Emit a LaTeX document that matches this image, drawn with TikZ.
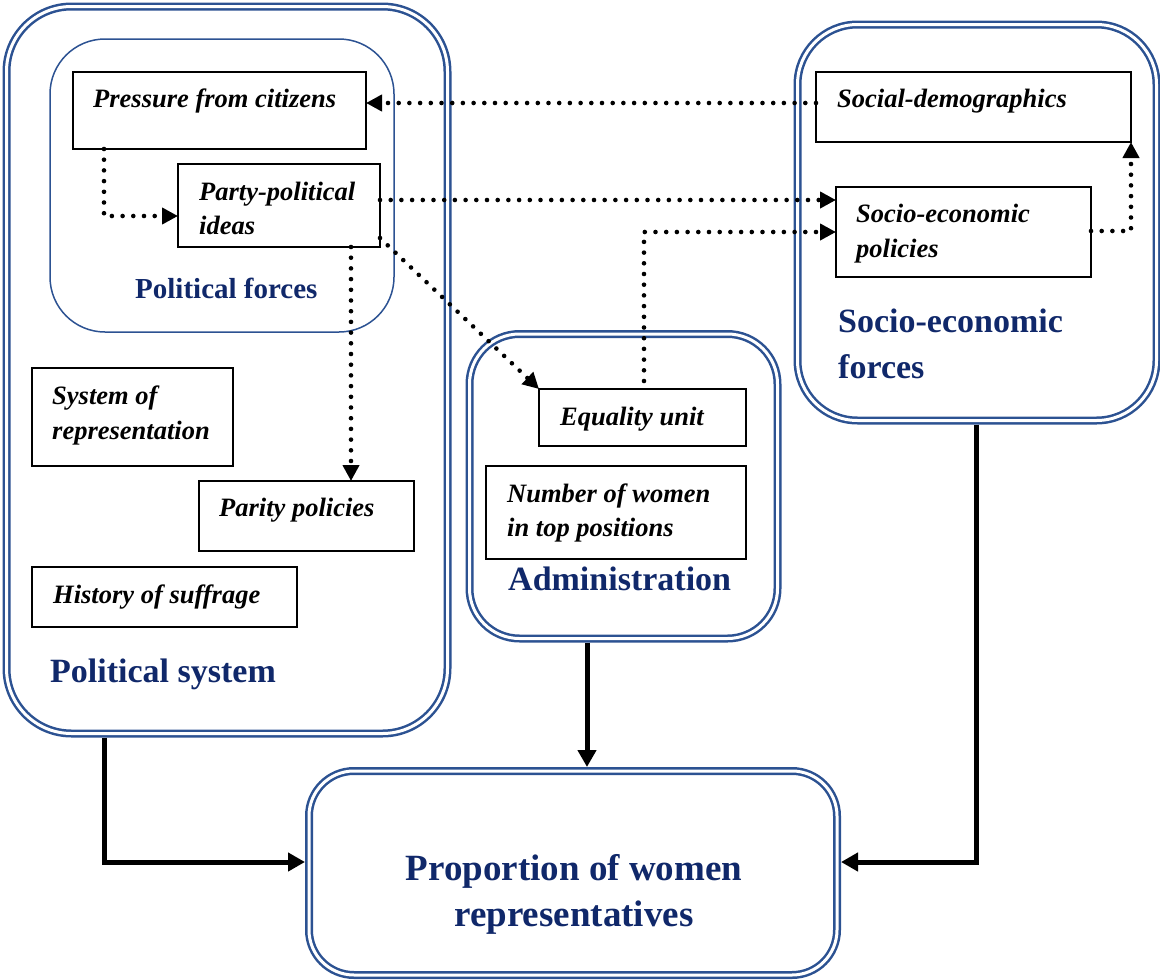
\documentclass[tikz,border=0pt]{standalone}
\usepackage{fontspec}
\setmainfont{Liberation Serif}
\usetikzlibrary{arrows.meta}
\definecolor{frameblue}{RGB}{44,82,146}
\definecolor{navy}{RGB}{16,40,106}
\begin{document}
\begin{tikzpicture}[x=1pt,y=-1pt,
  grp/.style={draw=frameblue, line width=2.5pt, double=white, double distance=3pt, rectangle, inner sep=0pt, outer sep=0pt},
  fbox/.style={draw=black, line width=2.3pt, fill=white, rectangle, inner sep=0pt, outer sep=0pt},
  btxt/.style={font=\fontsize{26.5}{35}\selectfont\bfseries\itshape, inner sep=0pt, anchor=base west},
  gtxt/.style={font=\fontsize{34}{46}\selectfont\bfseries, text=navy, inner sep=0pt, anchor=base west},
  dotarrow/.style={line width=4.6pt, line cap=round, dash pattern=on 0pt off 10.7pt, -{Triangle[length=16pt,width=16pt]}},
  solidarrow/.style={line width=5pt, -{Triangle[length=17pt,width=18pt]}},
]
\useasboundingbox (0,0) rectangle (1160,980);

% helper coordinates
\coordinate (y103) at (0,103);
\coordinate (y216) at (0,216);
\coordinate (y200) at (0,200);
\coordinate (y238) at (0,238);
\coordinate (y232) at (0,232);
\coordinate (y231) at (0,231);
\coordinate (y862) at (0,862);
\coordinate (x104) at (104,0);
\coordinate (x351) at (351,0);
\coordinate (x644) at (644,0);
\coordinate (x587) at (587,0);
\coordinate (x976) at (976,0);

% group containers
\node[grp, rounded corners=65pt, minimum width=441pt, minimum height=727pt] (ps) at (227,370) {};
\node[draw=frameblue, line width=1.5pt, rounded corners=55pt, rectangle, inner sep=0pt, outer sep=0pt, minimum width=344pt, minimum height=293pt] (pf) at (222,185.5) {};
\node[grp, rounded corners=50pt, minimum width=308pt, minimum height=304.5pt] (ad) at (623.5,486.25) {};
\node[grp, rounded corners=60pt, minimum width=359pt, minimum height=396pt] (se) at (977,222.5) {};
\node[grp, rounded corners=45pt, minimum width=528pt, minimum height=204pt] (pr) at (573,873) {};

% boxes
\node[fbox, minimum width=293pt, minimum height=77pt] (pc) at (219.5,110.5) {};
\node[fbox, minimum width=202pt, minimum height=83pt] (pt) at (279,205.5) {};
\node[fbox, minimum width=201pt, minimum height=98pt] (sr) at (132.5,417) {};
\node[fbox, minimum width=215pt, minimum height=70pt] (pp) at (306.5,516) {};
\node[fbox, minimum width=265pt, minimum height=60pt] (hs) at (164.5,597) {};
\node[fbox, minimum width=207pt, minimum height=57pt] (eu) at (642.5,417.5) {};
\node[fbox, minimum width=260pt, minimum height=93pt] (nw) at (616,512.5) {};
\node[fbox, minimum width=315pt, minimum height=70pt] (sd) at (973.5,107) {};
\node[fbox, minimum width=255pt, minimum height=90pt] (sp) at (963.5,232) {};

% dotted connectors
\draw[dotarrow] (sd.west |- y103) -- (pc.east |- y103);
\draw[dotarrow] (pc.south -| x104) |- (pt.west |- y216);
\draw[dotarrow] (pt.east |- y200) -- (sp.west |- y200);
\draw[dotarrow] (pt.east |- y238) -- (eu.north west);
\draw[dotarrow] (pt.south -| x351) -- (pp.north -| x351);
\draw[dotarrow, shorten <=8pt] (eu.north -| x644) |- (sp.west |- y232);
\draw[dotarrow] (sp.east |- y231) -| (sd.south east);

% box texts
\node[btxt] (t1) at (93,107) {Pressure from citizens};
\node[btxt] (t2a) at (199,200) {Party-political};
\node[btxt] (t2b) at (199,234) {ideas};
\node[btxt] (t3a) at (52,404) {System of};
\node[btxt] (t3b) at (52,439) {representation};
\node[btxt] (t4) at (219,516) {Parity policies};
\node[btxt] (t5) at (53,603) {History of suffrage};
\node[btxt] (t6) at (560,425) {Equality unit};
\node[btxt] (t7a) at (507,502) {Number of women};
\node[btxt] (t7b) at (507,536) {in top positions};
\node[btxt] (t8) at (837,107) {Social-demographics};
\node[btxt] (t9a) at (856,222) {Socio-economic};
\node[btxt] (t9b) at (856,257) {policies};

% group labels
\node[gtxt, font=\fontsize{29}{38}\selectfont\bfseries] (g1) at (135,298) {Political forces};
\node[gtxt] (g2) at (50,682) {Political system};
\node[gtxt] (g3) at (508,590) {Administration};
\node[gtxt] (g4a) at (838,332) {Socio-economic};
\node[gtxt] (g4b) at (838,378) {forces};
\node[gtxt, font=\fontsize{37}{46}\selectfont\bfseries, anchor=base] (g5a) at (574,880) {Proportion of women};
\node[gtxt, font=\fontsize{37}{46}\selectfont\bfseries, anchor=base] (g5b) at (574,926) {representatives};

% solid connectors
\draw[solidarrow, shorten <=4pt, shorten >=4pt] (ps.south -| x104) |- (pr.west |- y862);
\draw[solidarrow, shorten <=4pt, shorten >=4pt] (ad.south -| x587) -- (pr.north -| x587);
\draw[solidarrow, shorten <=4pt, shorten >=4pt] (se.south -| x976) |- (pr.east |- y862);
\end{tikzpicture}
\end{document}
